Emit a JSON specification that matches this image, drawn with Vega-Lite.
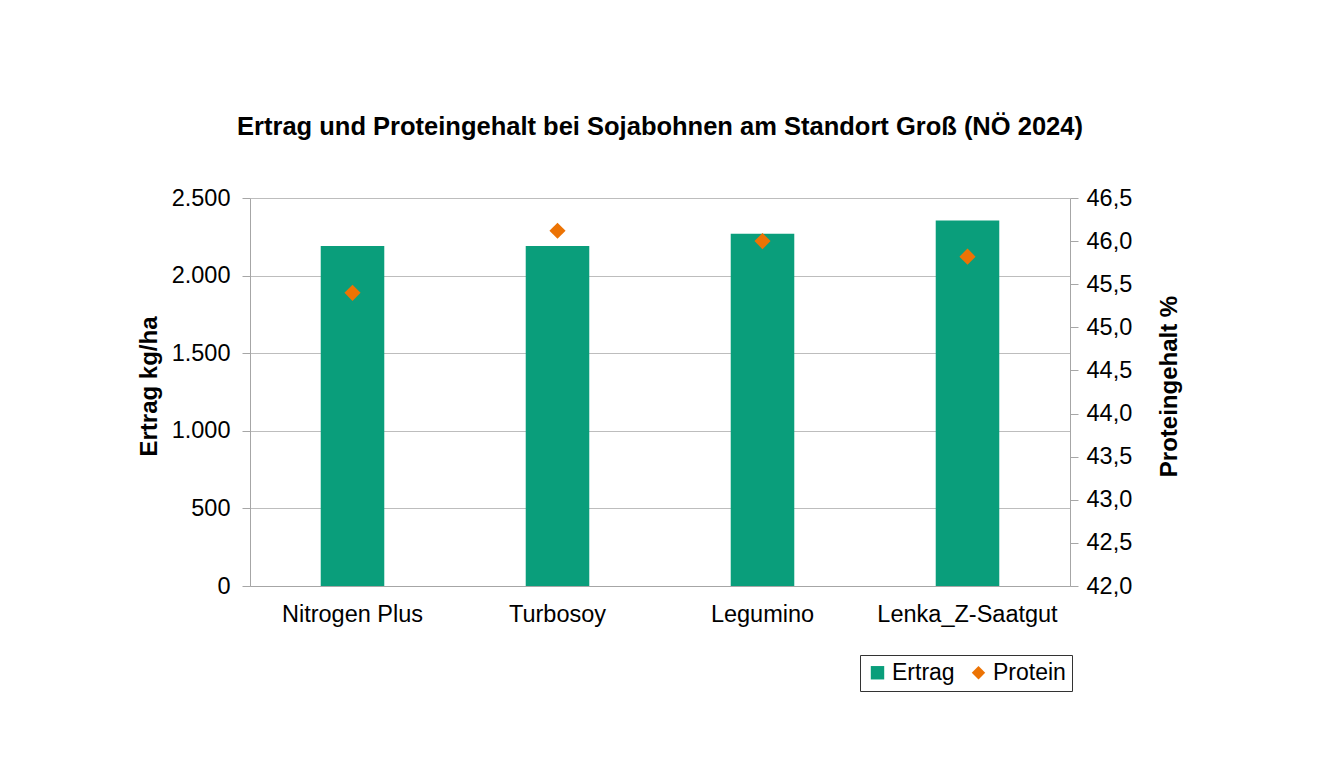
{
  "$schema": "https://vega.github.io/schema/vega-lite/v6.json",
  "autosize": {"type": "none"},
  "width": 820,
  "height": 388,
  "padding": {"left": 250, "top": 198, "right": 265, "bottom": 198},
  "background": "white",
  "config": {
    "locale": {"number": {"decimal": ",", "thousands": ".", "grouping": [3], "currency": ["", " €"]}},
    "font": "Liberation Sans",
    "view": {"stroke": null},
    "axis": {"labelFont": "Liberation Sans", "labelFontSize": 23.5, "labelColor": "#000", "labelLimit": 400, "titleFont": "Liberation Sans", "titleFontSize": 24, "titleFontWeight": "bold", "titleColor": "#000", "domainColor": "#a6a6a6", "tickColor": "#a6a6a6", "gridColor": "#bdbdbd"}
  },
  "title": {"text": "Ertrag und Proteingehalt bei Sojabohnen am Standort Groß (NÖ 2024)", "fontSize": 25.5, "fontWeight": "bold", "color": "#000", "font": "Liberation Sans", "offset": 46, "anchor": "middle"},
  "data": {"values": [
    {"Sorte": "Nitrogen Plus", "Ertrag": 2190, "Protein": 45.4},
    {"Sorte": "Turbosoy", "Ertrag": 2190, "Protein": 46.12},
    {"Sorte": "Legumino", "Ertrag": 2270, "Protein": 46.0},
    {"Sorte": "Lenka_Z-Saatgut", "Ertrag": 2355, "Protein": 45.82}
  ]},
  "transform": [{"fold": ["Ertrag", "Protein"], "as": ["Serie", "Wert"]}],
  "encoding": {
    "x": {"field": "Sorte", "type": "nominal", "sort": ["Nitrogen Plus", "Turbosoy", "Legumino", "Lenka_Z-Saatgut"],
      "scale": {"paddingInner": 0.69, "paddingOuter": 0.345},
      "axis": {"title": null, "labelAngle": 0, "ticks": false, "labelPadding": 16, "labelLimit": 400, "domainColor": "#a6a6a6"}}
  },
  "layer": [
    {
      "transform": [{"filter": "datum.Serie === 'Ertrag'"}],
      "mark": {"type": "bar"},
      "encoding": {
        "y": {"field": "Wert", "type": "quantitative", "scale": {"domain": [0, 2500]},
          "axis": {"title": "Ertrag kg/ha", "titleY": 188, "values": [0, 500, 1000, 1500, 2000, 2500], "format": ",d", "tickSize": 8, "labelPadding": 12, "titlePadding": 10, "grid": true}},
        "color": {"field": "Serie", "type": "nominal", "scale": {"domain": ["Ertrag", "Protein"], "range": ["#0a9e7b", "#ec7304"]},
          "legend": {"title": null, "orient": "none", "legendX": 610, "legendY": 457, "direction": "horizontal", "strokeColor": "#333", "fillColor": "white", "padding": 6, "labelFontSize": 23, "labelFont": "Liberation Sans", "labelColor": "#000", "symbolSize": 180, "columnPadding": 12, "labelOffset": 3}}
      }
    },
    {
      "transform": [{"filter": "datum.Serie === 'Protein'"}],
      "mark": {"type": "point", "filled": true, "opacity": 1, "size": 260},
      "encoding": {
        "y": {"field": "Wert", "type": "quantitative", "scale": {"domain": [42, 46.5], "zero": false},
          "axis": {"orient": "right", "title": "Proteingehalt %", "titleAngle": 270, "titleY": 188, "values": [42, 42.5, 43, 43.5, 44, 44.5, 45, 45.5, 46, 46.5], "format": ".1f", "tickSize": 8, "labelPadding": 8, "titlePadding": 50, "grid": false}},
        "color": {"field": "Serie", "type": "nominal"},
        "shape": {"field": "Serie", "type": "nominal", "scale": {"domain": ["Ertrag", "Protein"], "range": ["square", "diamond"]}}
      }
    }
  ],
  "resolve": {"scale": {"y": "independent"}}
}
